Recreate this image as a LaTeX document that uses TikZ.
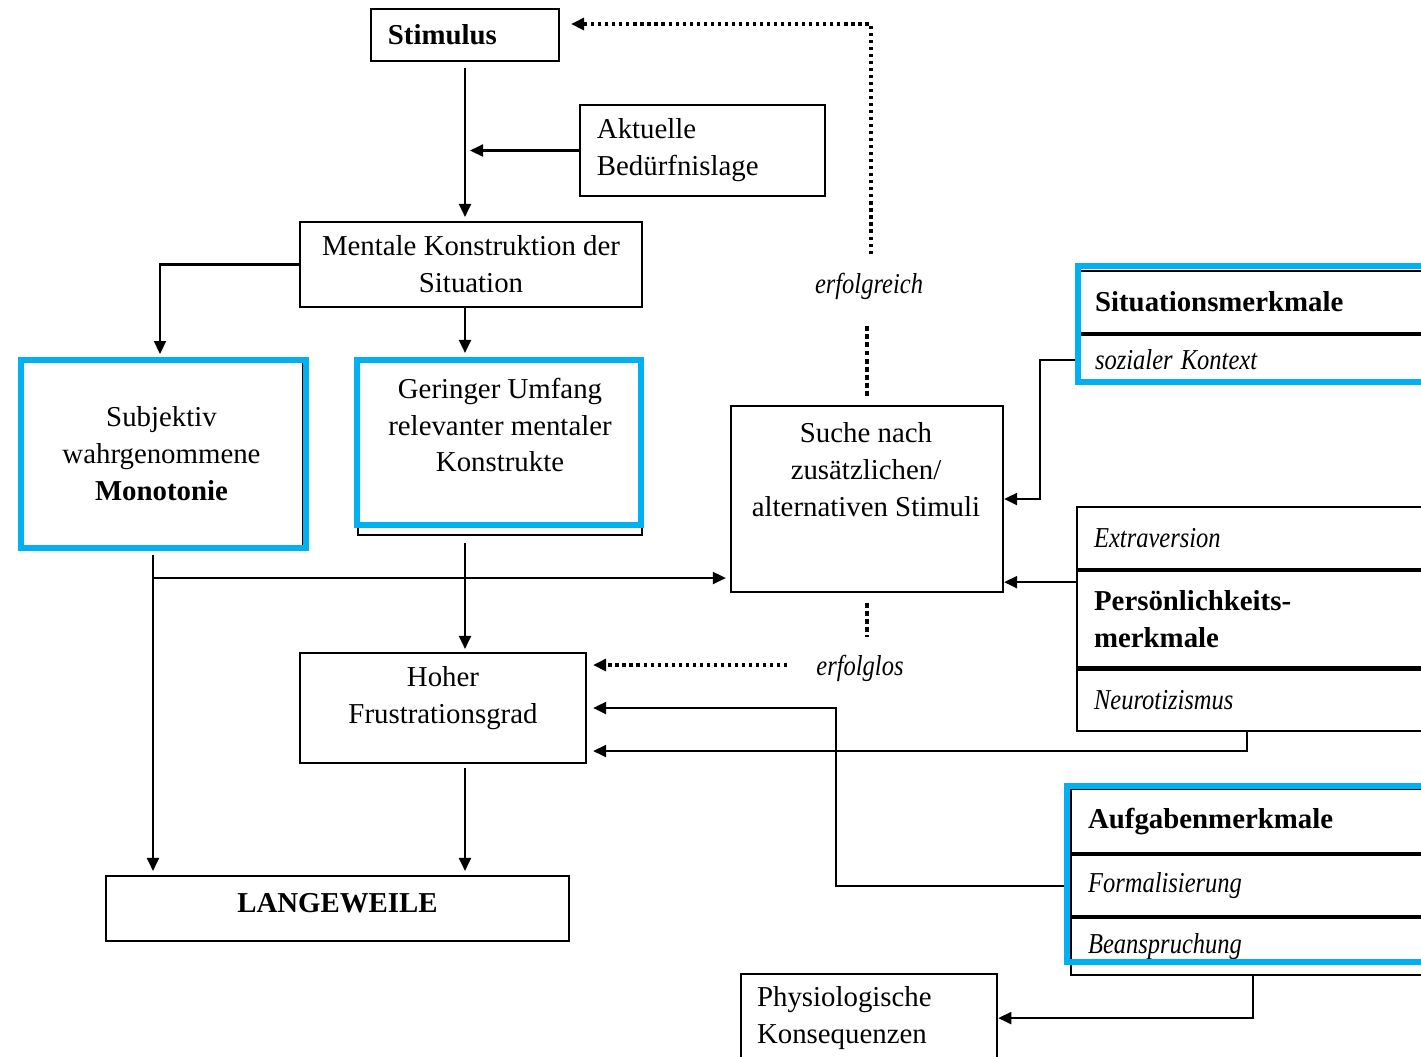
\documentclass[tikz,border=0pt]{standalone}
\usepackage{fontspec}
\setmainfont{Liberation Serif}
\usetikzlibrary{arrows.meta}
\definecolor{hiblue}{HTML}{00B0F0}
\newcommand{\slim}[1]{\scalebox{0.85}[1]{\textit{#1}}}

\begin{document}
\begin{tikzpicture}[
  x=0.01cm, y=-0.01cm,
  font=\fontsize{8.2}{10.5}\selectfont,
  line width=0.6pt,
  bnode/.style={draw,rectangle,inner sep=0pt},
  tnode/.style={align=center,inner sep=0pt},
  cell/.style={draw,rectangle,anchor=north west,text width=3.6cm,align=left,inner xsep=0.17cm,inner ysep=0pt},
  frame/.style={draw=hiblue,line width=0.055cm},
  arr/.style={-{Triangle[length=1.3mm,width=1.2mm]}},
  fine/.style={line width=0.9pt,dash pattern=on 0.9pt off 1.1pt},
  heavy/.style={line width=1.4pt,dash pattern=on 1.4pt off 0.9pt}
]
  \useasboundingbox (0,0) rectangle (1421,1056);
  \clip (0,0) rectangle (1421,1056);

  % left column
  \node[bnode, minimum width=1.88cm, minimum height=0.52cm, text width=1.54cm, inner xsep=0.17cm, align=left] (stim) at (465,35) {\textbf{Stimulus}};
  \node[bnode, minimum width=2.45cm, minimum height=0.91cm, text width=2.11cm, inner xsep=0.17cm, align=left] (akt) at (702.5,150.5) {Aktuelle\\Bedürfnislage};
  \node[bnode, minimum width=3.42cm, minimum height=0.85cm, align=center] (mental) at (471,264.5) {Mentale Konstruktion der\\Situation};
  \node[bnode, minimum width=2.83cm, minimum height=1.88cm, align=center] (subj) at (161.5,454) {Subjektiv\\wahrgenommene\\\textbf{Monotonie}};
  \node[bnode, minimum width=2.84cm, minimum height=1.75cm] (geringer) at (500,447.5) {};
  \node[tnode] (geringer-t) at (500,425) {Geringer Umfang\\relevanter mentaler\\Konstrukte};
  \node[bnode, minimum width=2.86cm, minimum height=1.10cm] (hoher) at (443,708) {};
  \node[tnode] (hoher-t) at (443,698.5) {Hoher\\Frustrationsgrad};
  \node[bnode, minimum width=4.63cm, minimum height=0.65cm] (lang) at (337.5,908.5) {};
  \node[tnode] (lang-t) at (337.5,903) {\textbf{LANGEWEILE}};

  % search
  \node[bnode, minimum width=2.72cm, minimum height=1.86cm] (suche) at (867,499) {};
  \node[tnode] (suche-t) at (866,470) {Suche nach\\zusätzlichen/\\alternativen Stimuli};
  \node[tnode] (ok) at (869,286) {\slim{erfolgreich}};
  \node[tnode] (fail) at (860,668) {\slim{erfolglos}};
  \node[bnode, anchor=north west, minimum width=2.56cm, minimum height=0.88cm, text width=2.24cm, inner xsep=0.16cm, align=left] (phys) at (740,973) {Physiologische\\Konsequenzen};

  % feature tables
  \node[cell, minimum height=0.62cm] (sit-h) at (1077,270) {\textbf{Situationsmerkmale}};
  \node[cell, minimum height=0.49cm] (sit-k) at (sit-h.south west) {\slim{sozialer Kontext}};
  \node[cell, minimum height=0.62cm] (pers-e) at (1076,506) {\slim{Extraversion}};
  \node[cell, minimum height=0.96cm] (pers-m) at (pers-e.south west) {\textbf{Persönlichkeits-}\\\textbf{merkmale}};
  \node[cell, minimum height=0.62cm] (pers-n) at (pers-m.south west) {\slim{Neurotizismus}};
  \draw[line width=1.3pt] (pers-m.south west) -- (pers-m.south east);
  \node[cell, minimum height=0.64cm] (aufg-h) at (1070,788) {\textbf{Aufgabenmerkmale}};
  \node[cell, minimum height=0.61cm] (aufg-f) at (aufg-h.south west) {\slim{Formalisierung}};
  \node[cell, minimum height=0.57cm] (aufg-b) at (aufg-f.south west) {\slim{Beanspruchung}};

  % main edges
  \coordinate (trunk) at (465,0);
  \coordinate (jn) at (153,578);
  \draw[arr, shorten <=0.06cm, shorten >=0.04cm] (trunk |- stim.south) -- (trunk |- mental.north);
  \draw[arr] (akt.west) -- ([xshift=0.05cm]trunk |- akt.west);
  \draw[arr, shorten >=0.06cm] (mental.west) -| (160,360);
  \draw[arr, shorten >=0.06cm] (trunk |- mental.south) -- (trunk |- geringer.north);
  \draw[arr, shorten <=0.06cm, shorten >=0.04cm] (jn |- subj.south) -- (jn |- lang.north);
  \draw[arr, shorten >=0.04cm] (jn) -- (jn -| suche.west);
  \draw[arr, shorten <=0.07cm, shorten >=0.03cm] (trunk |- geringer.south) -- (trunk |- hoher.north);
  \draw[arr, shorten <=0.04cm, shorten >=0.04cm] (trunk |- hoher.south) -- (trunk |- lang.north);

  % search outcome
  \coordinate (back) at (871,24);
  \draw[heavy, shorten <=0.09cm, shorten >=0.23cm] (suche.north) -- (suche.north |- ok.south);
  \draw[fine, arr, shorten <=0.18cm, shorten >=0.11cm] (ok.north -| back) -- (back) -- (back -| stim.east);
  \draw[heavy, shorten <=0.1cm, shorten >=0.17cm] (suche.south) -- (suche.south |- fail.north);
  \draw[fine, arr, shorten <=0.28cm, shorten >=0.06cm] ([yshift=0.03cm]fail.west) -- ([yshift=0.03cm]fail.west -| hoher.east);

  % feature edges
  \draw[arr] (sit-k.west) -- ++(-37,0) |- (suche.east);
  \draw[arr] ([yshift=-0.12cm]pers-m.north west) -- ([yshift=-0.12cm]pers-m.north west -| suche.east);
  \draw[arr, shorten >=0.06cm] ([xshift=1.71cm]pers-n.south west) |- ([yshift=-0.43cm]hoher.east);
  \draw[arr, shorten >=0.06cm] (aufg-f.west) -- ++(-234,0) |- (hoher.east);
  \draw[arr] ([xshift=1.83cm]aufg-b.south west) |- (phys.east);

  % highlights
  \draw[frame] (21,360) rectangle (306,548);
  \draw[frame] (357,360) rectangle (641,525);
  \draw[frame] (1078,266) rectangle (1500,382);
  \draw[frame] (1067,786) rectangle (1500,962);

\end{tikzpicture}
\end{document}
